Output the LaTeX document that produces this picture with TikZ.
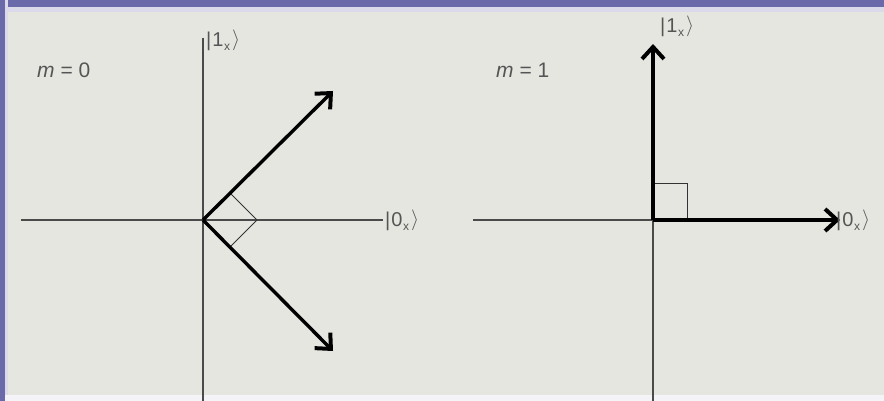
\documentclass[tikz,border=0pt]{standalone}
\usepackage{fontspec}
\setmainfont{Liberation Sans}
\usetikzlibrary{arrows.meta}
\definecolor{bg}{HTML}{E6E6E1}
\definecolor{frame}{HTML}{6A6AAA}
\definecolor{axisc}{HTML}{4A4A4A}
\definecolor{labc}{HTML}{555555}
\tikzset{
  axis/.style={draw=axisc, line width=1.3pt},
  vec/.style={draw=black, line width=3.4pt, -{Straight Barb[length=12pt,width=22pt,line width=4pt]}},
  rightang/.style={draw=black!80, line width=1pt},
  ket/.style={text=labc, font=\fontsize{20}{22}\selectfont, inner sep=0pt},
  mlabel/.style={text=labc, font=\fontsize{21}{24}\selectfont, inner sep=0pt},
}
\newcommand{\myket}[1]{|\kern1pt#1\kern0.5pt\raisebox{-4pt}{\fontsize{12}{12}\selectfont x}\kern2pt\raisebox{1pt}{$\rangle$}}
\begin{document}
\begin{tikzpicture}[x=1pt,y=-1pt]
\useasboundingbox (0,0) rectangle (884,401);
\fill[bg] (0,0) rectangle (884,401);
\fill[frame!25!white] (0,0) rectangle (884,12);
\fill[frame] (0,0) rectangle (884,7);
\fill[frame!25!white] (0,0) rectangle (8,401);
\fill[frame] (0,0) rectangle (5,401);
\fill[white!92!frame] (5,395) rectangle (884,401);
% left panel
\coordinate (oL) at (203,220);
\coordinate (lTop) at (203,38);
\coordinate (lBot) at (203,401);
\coordinate (lLeft) at (21,220);
\coordinate (lRight) at (383,220);
\coordinate (aUp) at (333,91);
\coordinate (aDn) at (333,351);
\draw[axis] (lTop) -- (lBot);
\draw[axis] (lLeft) -- (lRight);
\draw[rightang] (230,193) -- (257,220) -- (230,247);
\draw[vec] (oL) -- (aUp);
\draw[vec] (oL) -- (aDn);
\node[ket, anchor=west] (k1L) at (206,40) {\myket{1}};
\node[ket, anchor=west] (k0L) at (385,220) {\myket{0}};
\node[mlabel, anchor=west] (m0) at (37,70) {\textit{m} = 0};
% right panel
\coordinate (oR) at (653,220);
\coordinate (rBot) at (653,401);
\coordinate (rLeft) at (473,220);
\coordinate (aR) at (840,220);
\coordinate (aT) at (653,44);
\draw[axis] (oR) -- (rBot);
\draw[axis] (rLeft) -- (oR);
\draw[rightang] (653,184) -- (687,184) -- (687,220);
\draw[vec] (oR) -- (aT);
\draw[vec] (oR) -- (aR);
\node[ket, anchor=west] (k1R) at (660,26) {\myket{1}};
\node[ket, anchor=west] (k0R) at (836,220) {\myket{0}};
\node[mlabel, anchor=west] (m1) at (496,70) {\textit{m} = 1};
\end{tikzpicture}
\end{document}
